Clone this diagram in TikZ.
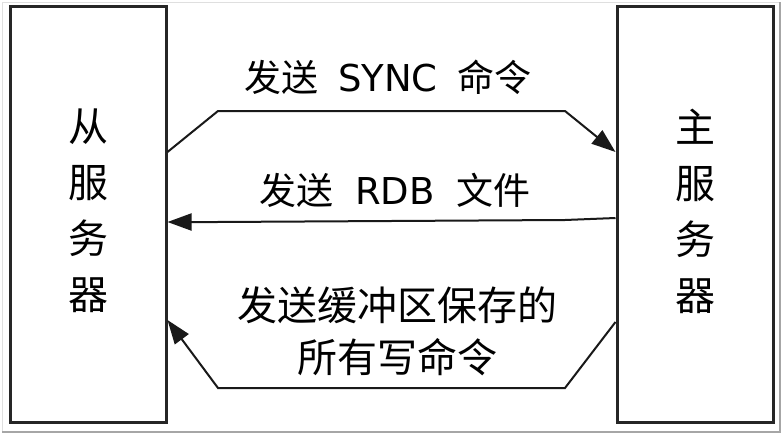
\documentclass[tikz,border=0pt]{standalone}
\usepackage{fontspec}
\setmainfont{Noto Sans CJK SC}
\newfontfamily\latin{DejaVu Sans}
\usetikzlibrary{arrows.meta,calc}
\tikzset{
  box/.style={draw=black!85, line width=3pt, minimum width=156pt, minimum height=416pt, inner sep=0pt},
  boxlbl/.style={align=center, inner sep=0pt, font=\fontsize{40}{56}\selectfont},
  txt/.style={inner sep=0pt, font=\fontsize{37}{44}\selectfont},
  bigtxt/.style={inner sep=0pt, align=center, font=\fontsize{40}{52}\selectfont},
  arr/.style={draw=black!90, line width=2pt, -{Triangle[length=24pt,width=17pt]}},
}
\begin{document}
\begin{tikzpicture}[x=1pt,y=-1pt]
\fill[white] (0,0) rectangle (784,434);
\useasboundingbox (0,0) rectangle (784,434);
% thumbnail frame
\draw[gray!25, line width=1pt] (2,2) rectangle (779,431);
\draw[gray!70, line width=2pt] (2,431.5) -- (779.5,431.5) -- (779.5,2);
% boxes
\node[box] (slave) at (88,214) {};
\node[box] (master) at (695,214) {};
\node[boxlbl] (slavelbl) at (88,211) {从\\服\\务\\器};
\node[boxlbl] (masterlbl) at (695,211) {主\\服\\务\\器};
% labels
\node[txt] (t1) at (388,77) {发送\hspace{20pt}{\latin SYNC}\hspace{20pt}命令};
\node[txt] (t2) at (395,190) {发送\hspace{22pt}{\latin RDB}\hspace{22pt}文件};
\node[bigtxt] (t3) at (397,331) {发送缓冲区保存的\\所有写命令};
% connectors
\draw[arr] ($(slave.east)+(0,-62)$) -- (218,111) -- (565,111) -- ($(master.west)+(0,-62)$);
\draw[arr] ($(master.west)+(0,4)$) -- (565,220) -- (217,222) -- ($(slave.east)+(0,8)$);
\draw[arr] ($(master.west)+(0,108)$) -- (565,388) -- (218,388) -- ($(slave.east)+(0,106)$);
\end{tikzpicture}
\end{document}
